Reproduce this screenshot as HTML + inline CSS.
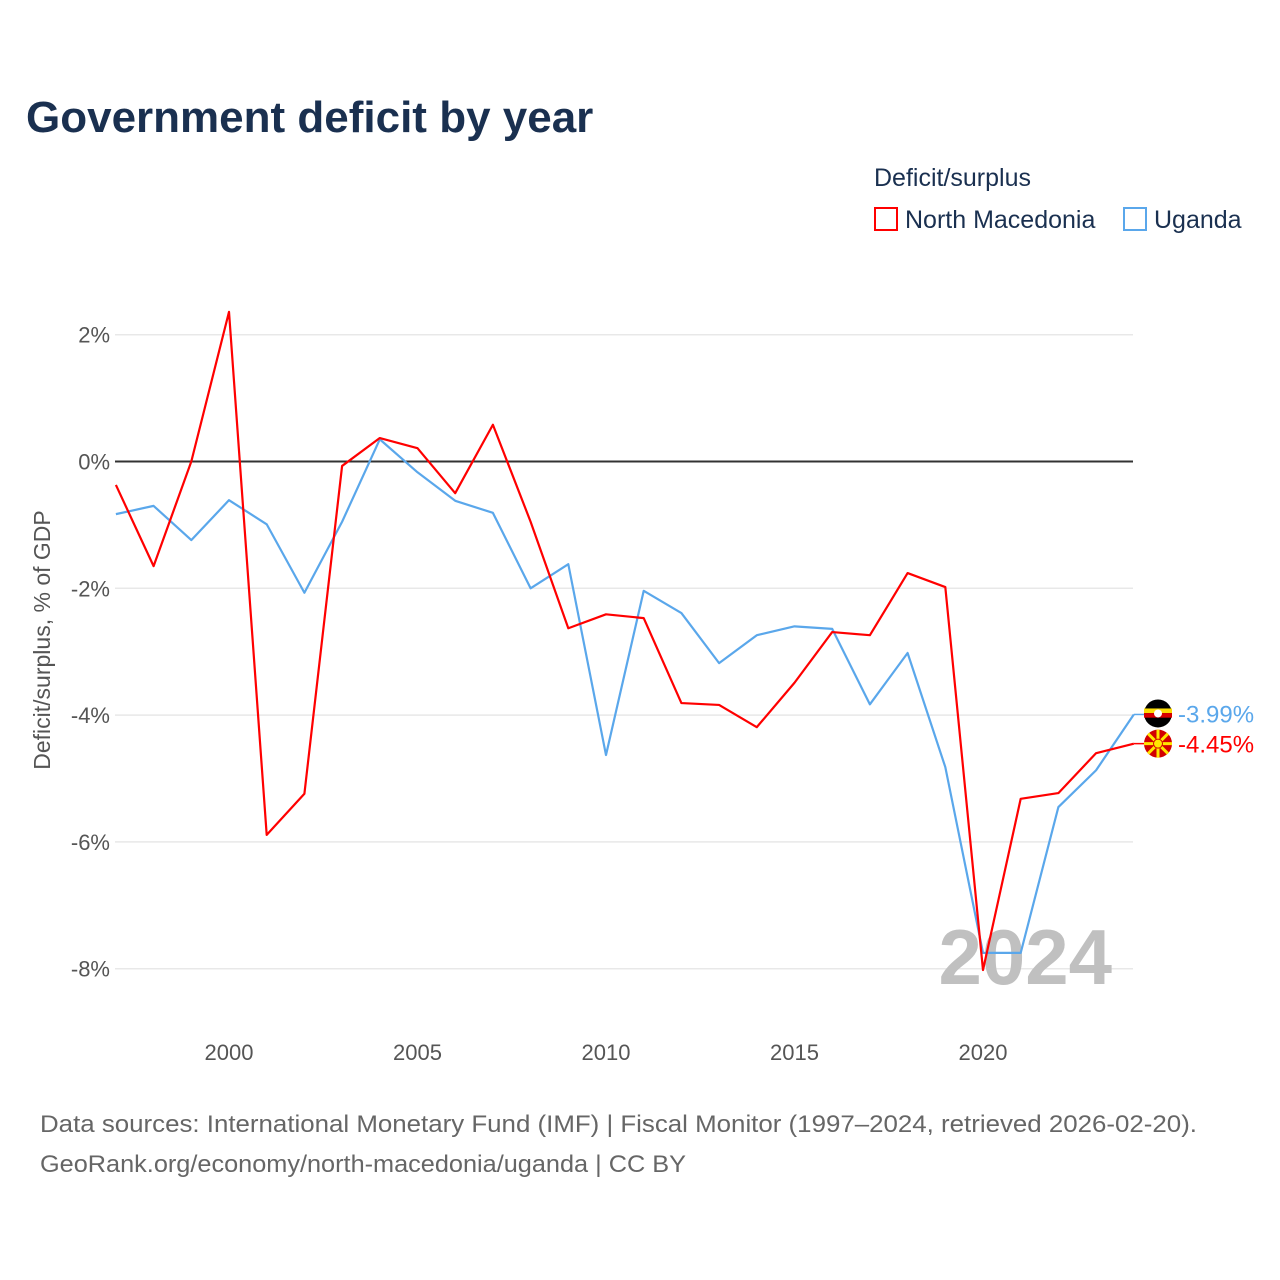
<!DOCTYPE html>
<html><head><meta charset="utf-8">
<style>
body{margin:0;background:#fff;font-family:"Liberation Sans",sans-serif;}
#wrap{position:relative;width:1280px;height:1280px;overflow:hidden;}
</style></head>
<body><div id="wrap">
<svg id="chart" width="1280" height="1280" xmlns="http://www.w3.org/2000/svg">
<text x="26" y="132" font-size="44" font-weight="bold" fill="#1a3050">Government deficit by year</text>
<text x="874" y="186" font-size="25" fill="#1a3050">Deficit/surplus</text>
<g>
<rect x="875" y="208" width="22" height="22" fill="none" stroke="#ff0000" stroke-width="2"/>
<text x="905" y="228" font-size="25" fill="#1a3050">North Macedonia</text></g>
<g>
<rect x="1124" y="208" width="22" height="22" fill="none" stroke="#5aa7eb" stroke-width="2"/>
<text x="1154" y="228" font-size="25" fill="#1a3050">Uganda</text></g>
<g id="grid"></g>
<text x="1112" y="984" font-size="78" font-weight="bold" fill="#c0c0c0" text-anchor="end">2024</text>
<g id="series"></g>
<text transform="translate(50,640) rotate(-90)" font-size="23" fill="#555" text-anchor="middle">Deficit/surplus, % of GDP</text>
<text x="40" y="1132" font-size="24" fill="#666" textLength="1157" lengthAdjust="spacingAndGlyphs">Data sources: International Monetary Fund (IMF) | Fiscal Monitor (1997–2024, retrieved 2026-02-20).</text>
<text x="40" y="1172" font-size="24" fill="#666" textLength="646" lengthAdjust="spacingAndGlyphs">GeoRank.org/economy/north-macedonia/uganda | CC BY</text>
</svg></div>
<script>
const years=[1997,1998,1999,2000,2001,2002,2003,2004,2005,2006,2007,2008,2009,2010,2011,2012,2013,2014,2015,2016,2017,2018,2019,2020,2021,2022,2023,2024];
const macedonia=[-0.37,-1.65,0,2.36,-5.89,-5.24,-0.07,0.37,0.21,-0.5,0.58,-0.95,-2.63,-2.41,-2.47,-3.81,-3.84,-4.19,-3.49,-2.69,-2.74,-1.76,-1.98,-8.02,-5.32,-5.23,-4.6,-4.45];
const uganda=[-0.83,-0.7,-1.24,-0.61,-0.99,-2.07,-0.95,0.35,-0.17,-0.62,-0.81,-2.0,-1.62,-4.63,-2.04,-2.39,-3.18,-2.74,-2.6,-2.64,-3.83,-3.02,-4.82,-7.75,-7.75,-5.45,-4.87,-3.99];
const yTicks=[2,0,-2,-4,-6,-8];
const xTicks=[2000,2005,2010,2015,2020];
const NS="http://www.w3.org/2000/svg";
const X=y=>229+(y-2000)*37.7;
const Y=v=>461.5-v*63.4;
function mk(t,a,p){const e=document.createElementNS(NS,t);for(const k in a)e.setAttribute(k,a[k]);p.appendChild(e);return e;}
const grid=document.getElementById('grid');
yTicks.forEach(v=>{
 const l=mk('line',{x1:115,x2:1133,y1:Y(v),y2:Y(v),stroke:v===0?'#333':'#e8e8e8','stroke-width':v===0?2:1.5},grid);
 
 
 const t=mk('text',{x:110,y:Y(v)+8,'font-size':22,fill:'#555','text-anchor':'end'},grid);
 t.textContent=v+'%';
 
 
});
xTicks.forEach(v=>{
 const t=mk('text',{x:X(v),y:1060,'font-size':22,fill:'#555','text-anchor':'middle'},grid);
 t.textContent=v;
 
 
});
const ser=document.getElementById('series');
function line(vals,col,name){
 const p=mk('polyline',{points:vals.map((v,i)=>X(years[i])+','+Y(v)).join(' '),fill:'none',stroke:col,'stroke-width':2.2,'stroke-linejoin':'round'},ser);
 
 
}
line(uganda,'#5aa7eb','uganda-line');
line(macedonia,'#ff0000','north-macedonia-line');
const lu=uganda[uganda.length-1], lm=macedonia[macedonia.length-1];
const g1=mk('g',{},ser);


mk('line',{x1:X(2024),x2:1145,y1:Y(lu),y2:Y(lu),stroke:'#5aa7eb','stroke-width':1.5},g1);
const c1=1158,cy1=Y(lu)-1;
mk('circle',{cx:c1,cy:cy1,r:14,fill:'#000'},g1);
mk('rect',{x:c1-14,y:cy1-5,width:28,height:4.6,fill:'#fcdc04'},g1);
mk('rect',{x:c1-14,y:cy1-0.4,width:28,height:4.6,fill:'#d90000'},g1);
mk('circle',{cx:c1,cy:cy1,r:4,fill:'#fff'},g1);
const t1=mk('text',{x:1178,y:cy1+9,'font-size':24,fill:'#5aa7eb'},g1);t1.textContent=lu.toFixed(2)+'%';
const g2=mk('g',{},ser);


const cy2=Y(lm);
mk('line',{x1:X(2024),x2:1145,y1:cy2,y2:cy2,stroke:'#ff0000','stroke-width':1.5},g2);
mk('circle',{cx:c1,cy:cy2,r:14,fill:'#d20000'},g2);
for(let a=0;a<8;a++){const r=a*Math.PI/4;mk('line',{x1:c1,y1:cy2,x2:c1+14*Math.cos(r),y2:cy2+14*Math.sin(r),stroke:'#ffe600','stroke-width':3},g2);}
mk('circle',{cx:c1,cy:cy2,r:4.5,fill:'#ffe600',stroke:'#d20000','stroke-width':1},g2);
const t2=mk('text',{x:1178,y:cy2+9,'font-size':24,fill:'#ff0000'},g2);t2.textContent=lm.toFixed(2)+'%';
</script>
</body></html>
